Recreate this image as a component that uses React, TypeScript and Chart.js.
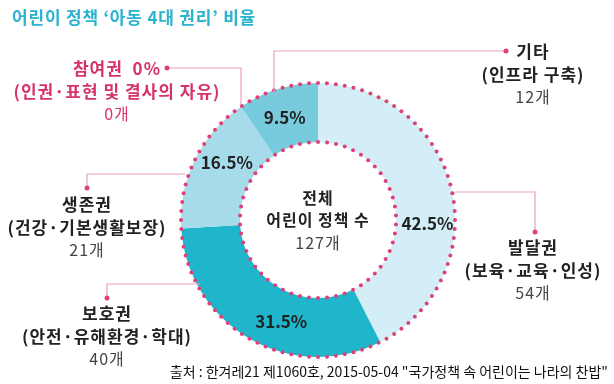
import React, { useEffect, useRef } from "react";
import { Chart, registerables } from "chart.js";

Chart.register(...registerables);

const TITLE = "어린이 정책 ‘아동 4대 권리’ 비율";
const categories = ["발달권", "보호권", "생존권", "기타", "참여권"];
const subtitles = ["(보육·교육·인성)", "(안전·유해환경·학대)", "(건강·기본생활보장)", "(인프라 구축)", "(인권·표현 및 결사의 자유)"];
const counts = [54, 40, 21, 12, 0];
const percents = [42.5, 31.5, 16.5, 9.5, 0];
const TOTAL = 127;
const SOURCE = "출처 : 한겨레21 제1060호, 2015-05-04 \"국가정책 속 어린이는 나라의 찬밥\"";

const COLORS = ["#d3eef6", "#1fb5ca", "#a6dbea", "#78cbdd", "#e0457b"];
const FONT = "'Noto Sans CJK KR', 'Noto Sans', sans-serif";
const PINK = "#e0407a";
const LINE_PINK = "#eba0bd";

// label angles (deg, clockwise from top) for percentage text
const PCT_ANGLE = [92, 200, 302, 342, 0];

const overlay = {
  id: "overlay",
  afterDatasetsDraw(chart: any) {
    const ctx = chart.ctx as any;
    const arc = chart.getDatasetMeta(0).data[0] as any;
    const cx = arc.x, cy = arc.y, R = arc.outerRadius, r = arc.innerRadius;
    ctx.save();
    const spacing = (v: string) => {
      if ("letterSpacing" in ctx) ctx.letterSpacing = v;
    };

    // dotted rims
    const dotRing = (rad: number, n: number) => {
      ctx.fillStyle = PINK;
      for (let i = 0; i < n; i++) {
        const a = (i / n) * Math.PI * 2;
        ctx.beginPath();
        ctx.arc(cx + rad * Math.sin(a), cy - rad * Math.cos(a), 2, 0, Math.PI * 2);
        ctx.fill();
      }
    };
    dotRing(R, 96);
    dotRing(r, 54);

    // percentage labels
    ctx.textAlign = "center";
    ctx.textBaseline = "middle";
    ctx.fillStyle = "#222";
    ctx.font = `bold 17px ${FONT}`;
    spacing("0px");
    const mid = (R + r) / 2;
    percents.forEach((p, i) => {
      if (p <= 0) return;
      const a = (PCT_ANGLE[i] * Math.PI) / 180;
      const rad = i === 0 ? mid + 2 : mid;
      ctx.fillText(`${p}%`, cx + rad * Math.sin(a), cy - rad * Math.cos(a));
    });

    // center text
    spacing("1px");
    ctx.font = `bold 16px ${FONT}`;
    ctx.fillText("전체", cx, cy - 22);
    ctx.fillText("어린이 정책 수", cx, cy);
    ctx.fillStyle = "#444";
    ctx.font = `16px ${FONT}`;
    ctx.fillText(`${TOTAL}개`, cx, cy + 23);

    // leader lines
    const leader = (pts: number[][]) => {
      ctx.strokeStyle = LINE_PINK;
      ctx.lineWidth = 1.2;
      ctx.beginPath();
      ctx.moveTo(pts[0][0], pts[0][1]);
      for (let k = 1; k < pts.length; k++) ctx.lineTo(pts[k][0], pts[k][1]);
      ctx.stroke();
      const e = pts[pts.length - 1];
      ctx.fillStyle = PINK;
      ctx.beginPath();
      ctx.arc(e[0], e[1], 2.5, 0, Math.PI * 2);
      ctx.fill();
    };
    leader([[274, 93], [274, 51], [506, 51]]); // 기타
    leader([[241, 104], [241, 68], [167, 68]]); // 참여권
    leader([[185, 174], [87, 174], [87, 188]]); // 생존권
    leader([[200, 284], [107, 284], [107, 298]]); // 보호권
    leader([[455, 192], [535, 192], [535, 232]]); // 발달권

    // label blocks
    const block = (i: number, x: number, y: number, pink = false) => {
      ctx.textAlign = "center";
      ctx.fillStyle = pink ? "#d6336c" : "#222";
      ctx.font = `bold 17px ${FONT}`;
      spacing("1px");
      const head = pink ? `${categories[i]}  ${percents[i]}%` : categories[i];
      ctx.fillText(head, x, y);
      ctx.fillText(subtitles[i], x, y + 23);
      ctx.fillStyle = pink ? "#d6336c" : "#444";
      ctx.font = `16px ${FONT}`;
      ctx.fillText(`${counts[i]}개`, x, y + 45);
    };
    block(4, 117, 69, true);
    block(3, 533, 52);
    block(2, 87, 205);
    block(1, 107, 314);
    block(0, 533, 248);

    // title
    ctx.textAlign = "left";
    ctx.fillStyle = "#2ab2cf";
    ctx.font = `bold 17px ${FONT}`;
    spacing("0.8px");
    ctx.fillText(TITLE, 12, 18);

    // source
    ctx.textAlign = "right";
    ctx.fillStyle = "#111";
    ctx.font = `14px ${FONT}`;
    spacing("0px");
    ctx.fillText(SOURCE, 608, 372);

    ctx.restore();
  },
};

export default function App() {
  const ref = useRef<HTMLCanvasElement>(null);
  useEffect(() => {
    document.body.style.margin = "0";
    const chart = new Chart(ref.current!, {
      type: "doughnut",
      data: {
        labels: categories,
        datasets: [
          {
            data: percents,
            backgroundColor: COLORS,
            borderWidth: 0,
            hoverOffset: 0,
          },
        ],
      },
      options: {
        animation: false,
        responsive: false,
        devicePixelRatio: 1,
        cutout: "57%",
        rotation: 0,
        layout: { padding: { left: 181, right: 159, top: 83, bottom: 27 } },
        plugins: { legend: { display: false }, tooltip: { enabled: false } },
        events: [],
      },
      plugins: [overlay],
    });
    return () => chart.destroy();
  }, []);
  return (
    <div style={{ width: 614, height: 384, background: "#fff" }}>
      <canvas ref={ref} width={614} height={384} />
    </div>
  );
}
